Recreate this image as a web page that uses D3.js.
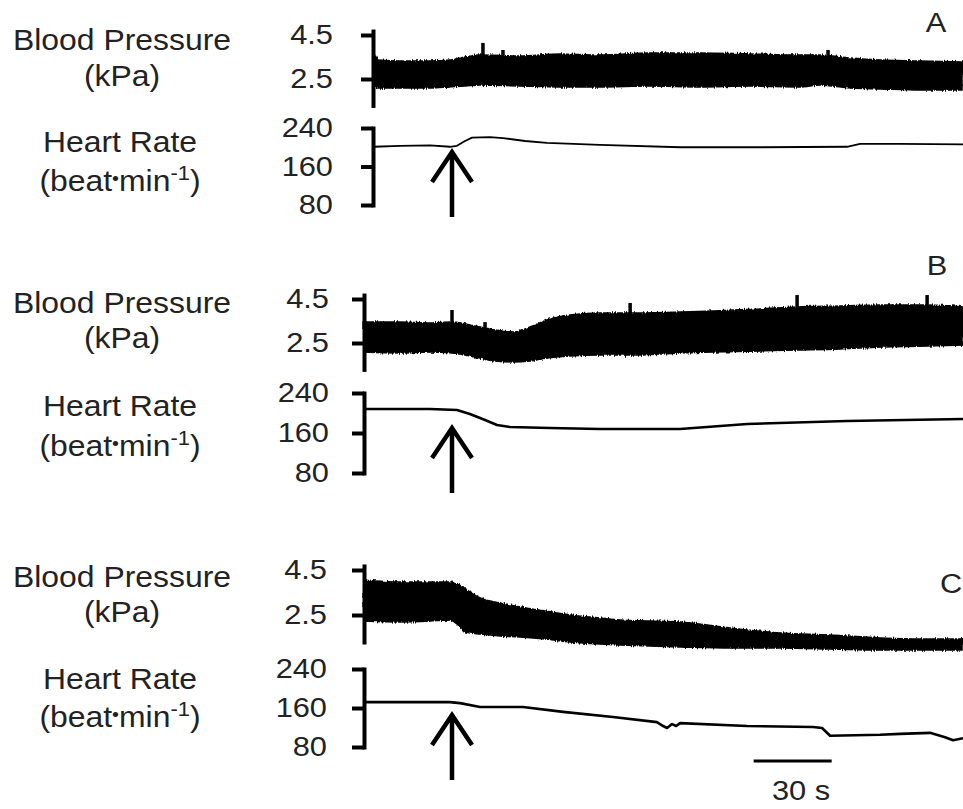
<!DOCTYPE html>
<html>
<head>
<meta charset="utf-8">
<script src="https://cdn.jsdelivr.net/npm/d3@7"></script>
<style>
  body { margin: 0; background: #fff; }
  svg { display: block; }
  text { font-family: "Liberation Sans", Arial, sans-serif; fill: #222; }
</style>
</head>
<body>
<svg id="chart" width="963" height="809"></svg>
<script>
// ---- Data (time in s, relative to the injection marked by the arrow) ----
const injectionTime = 0;
const scaleBarStart = 116;
const scaleBarLength = 30;
const panelLetters = ["A", "B", "C"];
const bpTicks = [4.5, 2.5];
const hrTicks = [240, 160, 80];

// Panel A: blood pressure envelope (kPa) and heart rate (beat/min)
const bpTimeA = [-30, -28.5, -20, -8.5, -0.8, 5, 10.8, 26.2, 41.5, 56.9, 76.2, 95.4, 114.6, 133.8, 141.5, 153.1, 164.6, 180, 196.5];
const bpSysA  = [3.64, 3.36, 3.32, 3.32, 3.36, 3.5, 3.59, 3.55, 3.64, 3.59, 3.68, 3.68, 3.64, 3.59, 3.59, 3.45, 3.36, 3.32, 3.27];
const bpDiaA  = [2.18, 2.09, 2.09, 2.09, 2.14, 2.18, 2.23, 2.18, 2.14, 2.14, 2.18, 2.14, 2.18, 2.14, 2.23, 2.09, 2.05, 2.0, 2.0];
const spikeTimeA = [11.9, 19.6, 144.6];
const spikeValA  = [4.14, 3.82, 3.82];
const hrTimeA = [-30, -20, -8.5, -0.8, 1.9, 5, 7.7, 14.6, 19.6, 28.1, 36.5, 56.9, 87.7, 118.5, 151.9, 156.9, 172.3, 196.5];
const hrA     = [201, 203, 204, 201, 203, 213, 220, 221, 219, 213, 209, 205, 200, 200, 201, 207, 207, 206];

// Panel B
const bpTimeB = [-33.8, -20, -8.5, 0, 6.9, 10.8, 16.5, 23.5, 30, 36.5, 45.4, 56.9, 68.5, 87.7, 100.4, 118.5, 132.7, 149.2, 164.6, 182.7, 196.5];
const bpSysB  = [3.45, 3.45, 3.41, 3.45, 3.32, 3.23, 3.09, 3.0, 3.23, 3.55, 3.77, 3.86, 3.86, 3.91, 3.95, 4.05, 4.14, 4.18, 4.23, 4.23, 4.14];
const bpDiaB  = [2.09, 2.05, 2.09, 2.05, 1.91, 1.82, 1.68, 1.64, 1.68, 1.82, 1.91, 1.95, 1.95, 2.05, 2.09, 2.14, 2.18, 2.23, 2.32, 2.36, 2.41];
const spikeTimeB = [0, 12.7, 68.5, 132.7, 182.7];
const spikeValB  = [4.0, 3.45, 4.32, 4.68, 4.68];
const hrTimeB = [-33.8, -8.5, 1.9, 6.9, 12.7, 17.3, 22.3, 37.7, 56.9, 87.7, 113.5, 151.9, 196.5];
const hrB     = [208, 208, 206, 198, 186, 176, 172, 170, 168, 168, 178, 184, 188];

// Panel C
const bpTimeC = [-33.8, -20, -8.5, -0.8, 1.9, 4.2, 6.9, 10.8, 18.5, 26.2, 35.8, 45.4, 56.9, 64.6, 76.2, 87.7, 106.9, 126.2, 145.4, 164.6, 180, 196.5];
const bpSysC  = [4.06, 3.97, 3.97, 3.97, 3.88, 3.74, 3.52, 3.26, 3.03, 2.86, 2.68, 2.5, 2.37, 2.28, 2.23, 2.19, 1.92, 1.7, 1.61, 1.48, 1.43, 1.43];
const bpDiaC  = [2.23, 2.19, 2.23, 2.28, 2.1, 1.83, 1.7, 1.66, 1.57, 1.52, 1.43, 1.3, 1.21, 1.17, 1.12, 1.08, 1.03, 1.03, 0.99, 0.94, 0.94, 0.94];
const spikeTimeC = [];
const spikeValC  = [];
const hrTimeC = [-33.8, -0.8, 3.1, 10.8, 27.3, 42.7, 61.9, 78.8, 81.2, 82.7, 84.6, 86.2, 87.7, 113.5, 138.8, 142.3, 145.4, 164.6, 172.3, 183.8, 189.6, 192.7, 196.5];
const hrC     = [172, 172, 170, 162, 162, 152, 141.5, 131, 123, 119, 127, 123, 129, 123, 121, 119, 103, 105, 107, 109, 100, 94, 98];

const panelData = [
  { bpT: bpTimeA, sys: bpSysA, dia: bpDiaA, spT: spikeTimeA, spV: spikeValA, hrT: hrTimeA, hr: hrA },
  { bpT: bpTimeB, sys: bpSysB, dia: bpDiaB, spT: spikeTimeB, spV: spikeValB, hrT: hrTimeB, hr: hrB },
  { bpT: bpTimeC, sys: bpSysC, dia: bpDiaC, spT: spikeTimeC, spV: spikeValC, hrT: hrTimeC, hr: hrC }
];

// ---- Layout ----
const layout = [
  { axisX: 373, bpTop: 35,  bpPx: 22,   hrTop: 128, hrSpan: 77, pad: 28, arrowY: 152, labelY: [50, 86, 152, 191],   letter: [936, 32],  hrW: 1.8 },
  { axisX: 364, bpTop: 299, bpPx: 22,   hrTop: 393, hrSpan: 80, pad: 23, arrowY: 428, labelY: [313, 348, 416, 456], letter: [937, 275], hrW: 2.6 },
  { axisX: 364, bpTop: 570, bpPx: 22.5, hrTop: 669, hrSpan: 78, pad: 25, arrowY: 715, labelY: [587, 622, 689, 727], letter: [951, 593], hrW: 2.6 }
];
const SX = 1.1;           // horizontal text stretch
const FONT = '"Liberation Sans", Arial, sans-serif';

const svg = d3.select("#chart");
const defs = svg.append("defs");
const jag = defs.append("filter").attr("id", "jag")
  .attr("x", "-2%").attr("y", "-40%").attr("width", "104%").attr("height", "180%");
jag.append("feTurbulence").attr("type", "fractalNoise").attr("baseFrequency", "0.9 0.08")
  .attr("numOctaves", 2).attr("seed", 7).attr("result", "noise");
jag.append("feDisplacementMap").attr("in", "SourceGraphic").attr("in2", "noise")
  .attr("scale", 4).attr("xChannelSelector", "R").attr("yChannelSelector", "G");

const x = d3.scaleLinear().domain([0, 196.5]).range([452, 963]);

function stretchedText(parent, tx, ty, size, anchor) {
  return parent.append("g").attr("transform", `translate(${tx},${ty}) scale(${SX},1)`)
    .append("text").attr("font-size", size).attr("text-anchor", anchor || "middle");
}

panelData.forEach((D, i) => {
  const L = layout[i];
  const g = svg.append("g");

  const yBP = d3.scaleLinear().domain([4.5, 2.5]).range([L.bpTop, L.bpTop + 2 * L.bpPx]);
  const yHR = d3.scaleLinear().domain([240, 80]).range([L.hrTop, L.hrTop + L.hrSpan]);
  const bpAxisScale = yBP.copy().domain([4.68, 1.3]).range([yBP(4.68), yBP(1.3)]);

  // Blood pressure band (systolic / diastolic envelope)
  const bpRows = D.bpT.map((t, k) => ({ t, sys: D.sys[k], dia: D.dia[k] }));
  const area = d3.area().x(d => x(d.t)).y0(d => yBP(d.dia)).y1(d => yBP(d.sys)).curve(d3.curveMonotoneX);
  g.append("g").attr("filter", "url(#jag)")
    .append("path").datum(bpRows).attr("d", area)
    .attr("fill", "#000").attr("stroke", "#000").attr("stroke-width", 1.5);

  // Isolated pressure peaks
  const sysAt = d3.scaleLinear().domain(D.bpT).range(D.sys);
  g.selectAll("line.spike").data(D.spT.map((t, k) => ({ t, v: D.spV[k] })))
    .join("line").attr("class", "spike")
    .attr("x1", d => x(d.t)).attr("x2", d => x(d.t))
    .attr("y1", d => yBP(d.v)).attr("y2", d => yBP(sysAt(d.t)) + 5)
    .attr("stroke", "#000").attr("stroke-width", 3.5);

  // Heart rate trace
  const hrRows = D.hrT.map((t, k) => ({ t, v: D.hr[k] }));
  g.append("path").datum(hrRows)
    .attr("d", d3.line().x(d => x(d.t)).y(d => yHR(d.v)))
    .attr("fill", "none").attr("stroke", "#000").attr("stroke-width", L.hrW)
    .attr("stroke-linejoin", "round");

  // Axes
  function styleAxis(ax) {
    ax.attr("font-size", 28).attr("font-family", FONT);
    ax.select(".domain").attr("stroke-width", 4).attr("stroke-linecap", "square");
    ax.selectAll(".tick line").attr("stroke-width", 4);
    ax.selectAll(".tick text").attr("fill", "#222").each(function () {
      const t = d3.select(this);
      const tx = +t.attr("x");
      t.attr("x", 0).attr("transform", `translate(${tx},0) scale(${SX},1)`);
    });
  }
  const bpAx = g.append("g").attr("transform", `translate(${L.axisX},0)`)
    .call(d3.axisLeft(bpAxisScale).tickValues(bpTicks).tickSize(12).tickSizeOuter(0)
      .tickPadding(L.pad).tickFormat(d3.format(".1f")));
  styleAxis(bpAx);
  const hrAx = g.append("g").attr("transform", `translate(${L.axisX},0)`)
    .call(d3.axisLeft(yHR).tickValues(hrTicks).tickSize(12).tickSizeOuter(0)
      .tickPadding(L.pad).tickFormat(d3.format("d")));
  styleAxis(hrAx);

  // Axis titles
  stretchedText(g, 122, L.labelY[0], 29).text("Blood Pressure");
  stretchedText(g, 122, L.labelY[1], 29).text("(kPa)");
  stretchedText(g, 120, L.labelY[2], 29).text("Heart Rate");
  const hrUnit = stretchedText(g, 120, L.labelY[3], 29);
  hrUnit.append("tspan").text("(beat");
  hrUnit.append("tspan").attr("font-size", 18).attr("dy", -6).text("\u2022");
  hrUnit.append("tspan").attr("dy", 6).text("min");
  hrUnit.append("tspan").attr("font-size", 20).attr("dy", -11).text("-1");
  hrUnit.append("tspan").attr("dy", 11).text(")");

  // Injection arrow
  const ax0 = x(injectionTime);
  g.append("path")
    .attr("d", `M${ax0},${L.arrowY + 65}V${L.arrowY}M${ax0 - 20},${L.arrowY + 30}L${ax0},${L.arrowY}L${ax0 + 20},${L.arrowY + 30}`)
    .attr("fill", "none").attr("stroke", "#000").attr("stroke-width", 4.5)
    .attr("stroke-linejoin", "miter");

  // Panel letter
  stretchedText(g, L.letter[0], L.letter[1], 28).attr("fill", "#333").text(panelLetters[i]);
});

// Time scale bar
svg.append("line")
  .attr("x1", x(scaleBarStart)).attr("x2", x(scaleBarStart + scaleBarLength))
  .attr("y1", 761).attr("y2", 761).attr("stroke", "#000").attr("stroke-width", 3);
stretchedText(svg, 772, 800, 28, "start").text(`${scaleBarLength} s`);
</script>
</body>
</html>
